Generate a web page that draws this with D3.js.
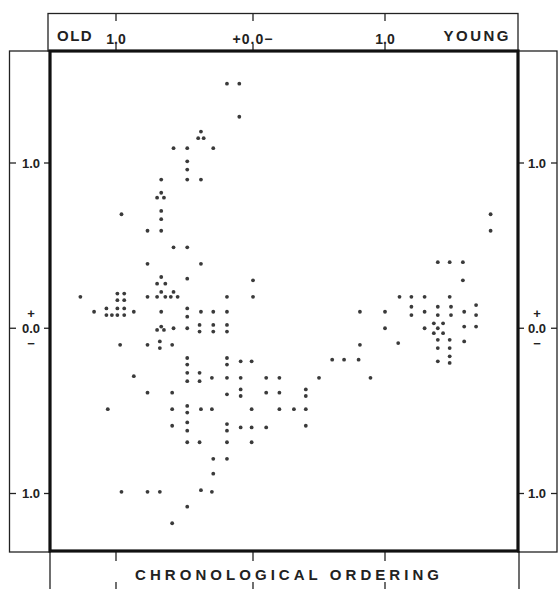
<!DOCTYPE html>
<html>
<head>
<meta charset="utf-8">
<script src="https://cdn.jsdelivr.net/npm/d3@7"></script>
<style>
  html, body { margin: 0; padding: 0; background: #fff; }
  text { font-family: "Liberation Sans", Arial, sans-serif; fill: #222; }
</style>
</head>
<body>
<svg id="chart"></svg>
<script>
// ---- data (axis units) ----
const xTicks = [1, 0, -1];
const xTickLabels = ['1.0', '+0.0\u2212', '1.0'];
const yTicks = [1, 0, -1];
const yTickLabels = ['1.0', '0.0', '1.0'];
const xEndLabels = ['OLD', 'YOUNG'];
const xTitle = 'CHRONOLOGICAL ORDERING';

// upper arm
const stemPoints = [
  [0.19,1.48],[0.10,1.48],[0.10,1.28],[0.38,1.19],[0.40,1.15],[0.36,1.15],
  [0.58,1.09],[0.48,1.09],[0.29,1.09],[0.48,1.01],[0.48,0.96],[0.67,0.90],
  [0.48,0.90],[0.38,0.90],[0.67,0.82],[0.70,0.79],[0.65,0.79],[0.96,0.69],
  [0.67,0.71],[0.67,0.66],[0.77,0.59],[0.67,0.59],[0.58,0.49],[0.48,0.49]
];
// band around zero, old side
const centerPoints = [
  [0.77,0.39],[0.38,0.39],[0.67,0.31],[0.70,0.27],[0.64,0.27],[0.48,0.30],
  [0.00,0.29],[1.26,0.19],[0.99,0.21],[0.94,0.21],[0.99,0.17],[0.94,0.17],
  [0.67,0.22],[0.58,0.22],[0.77,0.19],[0.70,0.19],[0.64,0.19],[0.60,0.19],
  [0.55,0.19],[0.19,0.19],[0.00,0.19],[1.16,0.10],[1.07,0.12],[1.07,0.08],
  [1.03,0.08],[0.99,0.12],[0.99,0.08],[0.94,0.12],[0.94,0.08],[0.87,0.10],
  [0.67,0.10],[0.48,0.12],[0.48,0.07],[0.38,0.10],[0.29,0.10],[0.19,0.10],
  [0.67,0.01],[0.70,-0.01],[0.65,-0.01],[0.58,0.00],[0.48,0.00],[0.39,0.02],
  [0.39,-0.02],[0.29,0.02],[0.29,-0.02],[0.19,0.02],[0.19,-0.02]
];
// lower arm
const lowerPoints = [
  [0.97,-0.10],[0.77,-0.10],[0.68,-0.08],[0.68,-0.12],[0.59,-0.10],[0.48,-0.18],
  [0.48,-0.22],[0.19,-0.18],[0.19,-0.22],[0.09,-0.20],[0.01,-0.20],[0.87,-0.29],
  [0.48,-0.27],[0.48,-0.32],[0.39,-0.27],[0.39,-0.32],[0.30,-0.30],[0.19,-0.30],
  [0.09,-0.30],[-0.10,-0.30],[-0.20,-0.30],[-0.50,-0.30],[-0.60,-0.19],[-0.69,-0.19],
  [-0.80,-0.19],[0.77,-0.39],[0.59,-0.39],[0.19,-0.40],[0.09,-0.37],[0.09,-0.41],
  [-0.10,-0.39],[-0.20,-0.39],[-0.40,-0.37],[-0.40,-0.41],[1.06,-0.49],[0.59,-0.49],
  [0.48,-0.47],[0.48,-0.51],[0.38,-0.49],[0.30,-0.49],[0.01,-0.49],[-0.20,-0.49],
  [-0.31,-0.49],[-0.40,-0.49],[0.59,-0.59],[0.48,-0.57],[0.48,-0.62],[0.19,-0.58],
  [0.19,-0.62],[0.09,-0.60],[0.01,-0.60],[-0.10,-0.60],[-0.40,-0.59],[0.48,-0.69],
  [0.39,-0.69],[0.19,-0.69],[0.01,-0.69],[0.29,-0.79],[0.19,-0.79],[0.29,-0.88],
  [0.96,-0.99],[0.77,-0.99],[0.68,-0.99],[0.38,-0.98],[0.30,-0.99],[0.48,-1.08],
  [0.59,-1.18]
];
// young cluster
const youngPoints = [
  [-1.80,0.69],[-1.80,0.59],[-1.40,0.40],[-1.49,0.40],[-1.59,0.40],[-1.59,0.29],
  [-1.11,0.19],[-1.20,0.19],[-1.30,0.19],[-1.49,0.19],[-1.69,0.14],[-1.69,0.08],
  [-1.69,0.01],[-1.20,0.13],[-1.20,0.08],[-1.30,0.10],[-1.40,0.13],[-1.40,0.08],
  [-1.50,0.13],[-1.50,0.08],[-1.60,0.10],[-0.81,0.10],[-1.00,0.10],[-1.00,0.00],
  [-1.30,0.00],[-1.37,0.03],[-1.44,0.03],[-1.40,0.00],[-1.37,-0.03],[-1.44,-0.03],
  [-1.60,0.01],[-1.40,-0.07],[-1.40,-0.12],[-1.49,-0.07],[-1.49,-0.12],[-1.60,-0.08],
  [-1.10,-0.09],[-0.81,-0.10],[-1.40,-0.20],[-1.49,-0.17],[-1.49,-0.21],[-0.89,-0.30]
];

// ---- layout ----
const W = 558, H = 589;
const box = { left: 50, right: 518, top: 51, bottom: 551 };

const svg = d3.select('#chart').attr('width', W).attr('height', H);

// OLD (+) on the left, YOUNG (-) on the right
const xScale = d3.scaleLinear().domain([1, 0, -1]).range([116, 253, 385]);
const yScale = d3.scaleLinear().domain([1, -1]).range([163, 493.5]);

const ink = '#222';

// outer thin frames
const frames = svg.append('g').attr('fill', 'none').attr('stroke', ink).attr('stroke-width', 1.3);
frames.append('rect').attr('x', 9.5).attr('y', box.top).attr('width', box.left - 9.5).attr('height', box.bottom - box.top + 1);
frames.append('rect').attr('x', box.right).attr('y', box.top).attr('width', 557 - box.right).attr('height', box.bottom - box.top + 1);
frames.append('rect').attr('x', box.left - 2).attr('y', 13.5).attr('width', box.right - box.left + 2).attr('height', box.top - 13.5);
frames.append('path').attr('d', `M${box.left},${box.bottom} V${H + 2} M${box.right + 1},${box.bottom} V${H + 2}`);

// tick marks on the top and bottom strips
const tk = svg.append('g').attr('stroke', ink).attr('stroke-width', 1.3);
tk.selectAll('.tt').data(xTicks).join('line')
  .attr('x1', d => xScale(d)).attr('x2', d => xScale(d)).attr('y1', 13.5).attr('y2', 21);
tk.selectAll('.tb').data(xTicks).join('line')
  .attr('x1', d => xScale(d)).attr('x2', d => xScale(d)).attr('y1', box.top).attr('y2', 44);
tk.selectAll('.bt').data(xTicks).join('line')
  .attr('x1', d => xScale(d)).attr('x2', d => xScale(d)).attr('y1', box.bottom).attr('y2', 561);
tk.selectAll('.bb').data(xTicks).join('line')
  .attr('x1', d => xScale(d)).attr('x2', d => xScale(d)).attr('y1', 582).attr('y2', H);

// tick marks on the side strips
[[9.5, 16], [44, box.left], [box.right, 524], [551, 557]].forEach(([a, b]) => {
  tk.append('g').selectAll('line').data(yTicks).join('line')
    .attr('x1', a).attr('x2', b).attr('y1', d => yScale(d)).attr('y2', d => yScale(d));
});

// top labels
svg.selectAll('.xl').data(xTicks).join('text')
  .attr('x', d => xScale(d)).attr('y', 44)
  .attr('text-anchor', 'middle')
  .attr('font-size', 14).attr('font-weight', 'bold')
  .attr('letter-spacing', (d, i) => i === 1 ? 1 : 0)
  .text((d, i) => xTickLabels[i]);
svg.append('text').attr('x', 57).attr('y', 41)
  .attr('font-size', 15).attr('font-weight', 'bold').attr('letter-spacing', 1.5)
  .text(xEndLabels[0]);
svg.append('text').attr('x', 511).attr('y', 41).attr('text-anchor', 'end')
  .attr('font-size', 15).attr('font-weight', 'bold').attr('letter-spacing', 2.5)
  .text(xEndLabels[1]);

// side labels
[31, 537].forEach(cx => {
  const g = svg.append('g');
  g.selectAll('text.v').data(yTicks).join('text')
    .attr('x', cx).attr('y', d => yScale(d) + 4.5)
    .attr('text-anchor', 'middle').attr('font-size', 13).attr('font-weight', 'bold')
    .text((d, i) => yTickLabels[i]);
  g.append('text').attr('x', cx).attr('y', yScale(0) - 10.5)
    .attr('text-anchor', 'middle').attr('font-size', 13).attr('font-weight', 'bold').text('+');
  g.append('text').attr('x', cx).attr('y', yScale(0) + 20)
    .attr('text-anchor', 'middle').attr('font-size', 13).attr('font-weight', 'bold').text('\u2212');
});

// bottom title
svg.append('text').attr('x', 287).attr('y', 580)
  .attr('text-anchor', 'middle')
  .attr('font-size', 15).attr('font-weight', 'bold')
  .attr('textLength', 304).attr('lengthAdjust', 'spacing')
  .text(xTitle);

// points
const allPoints = [...stemPoints, ...centerPoints, ...lowerPoints, ...youngPoints];
svg.append('g').selectAll('circle').data(allPoints).join('circle')
  .attr('cx', d => xScale(d[0]))
  .attr('cy', d => yScale(d[1]))
  .attr('r', 1.9)
  .attr('fill', '#3a3a3a');

// main thick frame on top
svg.append('rect')
  .attr('x', box.left).attr('y', box.top)
  .attr('width', box.right - box.left).attr('height', box.bottom - box.top)
  .attr('fill', 'none').attr('stroke', '#111').attr('stroke-width', 3.2);
</script>
</body>
</html>
